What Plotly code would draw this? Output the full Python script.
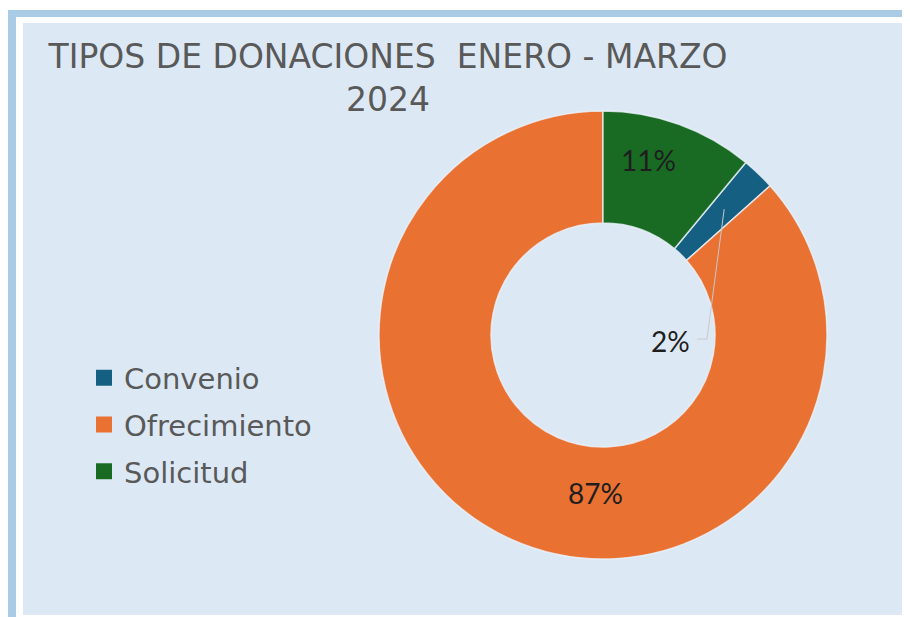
import math
import plotly.graph_objects as go

# ---- data ----
categories = ["Convenio", "Ofrecimiento", "Solicitud"]
values = [2.4, 86.6, 11.0]
colors = ["#156082", "#E97132", "#196B24"]
title_line1 = "TIPOS DE DONACIONES \u00a0ENERO - MARZO"
title_line2 = "2024"

W, H = 910, 617
OFF = 8  # page body margin
total = sum(values)
pct = [f"{round(v / total * 100)}%" for v in values]


def px(x):
    return (x - OFF) / W


def py(y):
    return 1 - (y - OFF) / H


# donut geometry (page pixels)
cx, cy, R = 603, 335, 224

# first slice (Convenio) starts after Solicitud, clockwise from 12 o'clock
rotation = 360 * values[2] / total

fig = go.Figure()
fig.add_trace(go.Pie(
    labels=categories,
    values=values,
    sort=False,
    direction="clockwise",
    rotation=rotation,
    hole=0.5,
    marker=dict(colors=colors, line=dict(color="rgba(235,242,250,0.8)", width=1.5)),
    textinfo="none",
    showlegend=False,
    domain=dict(x=[px(cx - R), px(cx + R)], y=[py(cy + R), py(cy - R)]),
))

# legend entries
for i, (c, col) in enumerate(zip(categories, colors)):
    fig.add_trace(go.Scatter(
        x=[None], y=[None], mode="markers", name=c,
        marker=dict(symbol="square", size=16, color=col),
        legendgroup=f"g{i}", showlegend=True,
    ))

# label positions
ann = [
    dict(x=px(648), y=py(160), text=pct[2]),
    dict(x=px(595), y=py(493), text=pct[1]),
    dict(x=px(670), y=py(341), text=pct[0]),
]
annotations = [dict(xref="paper", yref="paper", showarrow=False,
                    xanchor="center", yanchor="middle",
                    font=dict(family="Lato", size=28, color="#1e1e1e"), **a) for a in ann]

# leader line for Convenio label, anchored at the slice mid-angle
mid = math.radians(360 * (values[2] + values[0] / 2) / total)
r_anchor = 0.78 * R
ax_ = cx + r_anchor * math.sin(mid)
ay_ = cy - r_anchor * math.cos(mid)

shapes = [
    dict(type="rect", xref="paper", yref="paper", layer="below",
         x0=px(7), x1=px(W + 20), y0=py(H + 20), y1=py(10),
         fillcolor="#a9cbe5", line=dict(width=0)),
    dict(type="rect", xref="paper", yref="paper", layer="below",
         x0=px(16), x1=px(W + 20), y0=py(H + 20), y1=py(17),
         fillcolor="#ffffff", line=dict(width=0)),
    dict(type="rect", xref="paper", yref="paper", layer="below",
         x0=px(23), x1=px(907), y0=py(615), y1=py(23),
         fillcolor="#dce9f5", line=dict(width=0)),
    dict(type="path", xref="paper", yref="paper", layer="above",
         path=f"M {px(697)} {py(339)} L {px(707)} {py(339)} L {px(ax_)} {py(ay_)}",
         line=dict(color="#c8c8c8", width=1)),
]

fig.update_layout(
    width=W, height=H,
    margin=dict(l=0, r=0, t=0, b=0),
    paper_bgcolor="#ffffff",
    plot_bgcolor="rgba(0,0,0,0)",
    xaxis=dict(visible=False), yaxis=dict(visible=False),
    title=dict(text=f"{title_line1}<br>{title_line2}", x=px(388), xanchor="center",
               y=py(68), yanchor="top", yref="container",
               font=dict(family="DejaVu Sans", size=33, color="#595959")),
    legend=dict(x=px(84), xanchor="left", y=py(425), yanchor="middle",
                font=dict(family="DejaVu Sans", size=29, color="#595959"),
                bgcolor="rgba(0,0,0,0)", tracegroupgap=6),
    shapes=shapes,
    annotations=annotations,
)

fig.write_html("out.html")
